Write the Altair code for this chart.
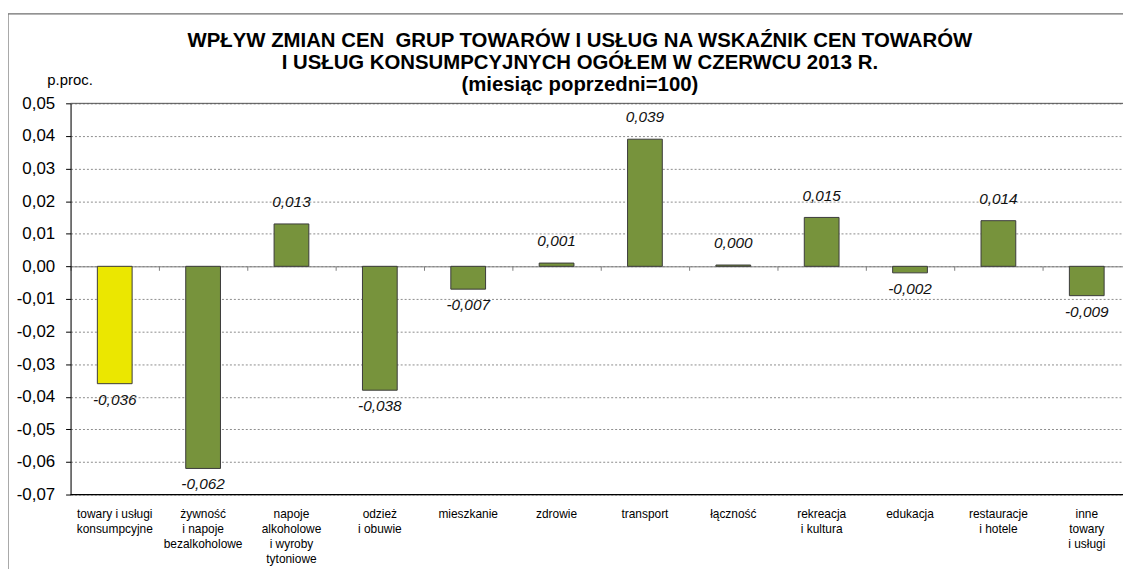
import altair as alt
import pandas as pd

categories = [
    "towary i usługi\nkonsumpcyjne",
    "żywność\ni napoje\nbezalkoholowe",
    "napoje\nalkoholowe\ni wyroby\ntytoniowe",
    "odzież\ni obuwie",
    "mieszkanie",
    "zdrowie",
    "transport",
    "łączność",
    "rekreacja\ni kultura",
    "edukacja",
    "restauracje\ni hotele",
    "inne\ntowary\ni usługi",
]
values = [-0.036, -0.062, 0.013, -0.038, -0.007, 0.001, 0.039, 0.0004, 0.015, -0.002, 0.014, -0.009]
colors = ["#EBE700"] + ["#77933C"] * 11
y_ticks = [0.05, 0.04, 0.03, 0.02, 0.01, 0.0, -0.01, -0.02, -0.03, -0.04, -0.05, -0.06, -0.07]
title_lines = [
    "WPŁYW ZMIAN CEN \u00a0GRUP TOWARÓW I USŁUG NA WSKAŹNIK CEN TOWARÓW",
    "I USŁUG KONSUMPCYJNYCH OGÓŁEM W CZERWCU 2013 R.",
    "(miesiąc poprzedni=100)",
]
y_unit = "p.proc."

df = pd.DataFrame({"cat": categories, "val": values, "color": colors})

W, H = 1060, 394
FONT = "Liberation Sans"

x_axis = alt.Axis(
    labels=False, title=None, grid=False, orient="bottom",
    offset=-(H * 0.07 / 0.12), domainColor="#7f7f7f", domainWidth=1,
    tickColor="#7f7f7f", tickSize=4, tickBand="extent",
)
x_scale = alt.Scale(range=[0, 1068], paddingInner=0, paddingOuter=0)
y_scale = alt.Scale(domain=[-0.07, 0.05], nice=False, zero=False)
y_axis = alt.Axis(
    values=y_ticks, tickCount=30, format=".2f", title=y_unit, titleAngle=0, titleX=-1, titleY=-19,
    titleAlign="center", titleBaseline="alphabetic", titleFontSize=15,
    titleFontWeight="normal", titleColor="black", titleFont=FONT,
    labelFontSize=17, labelColor="black", labelFont=FONT, labelPadding=11,
    labelOverlap=False, labelFlush=False,
    tickColor="black", tickSize=5, domainColor="black",
    gridColor="#8c8c8c", gridDash=[2, 2], gridWidth=1,
)


def X():
    return alt.X("cat:N", sort=None, scale=x_scale, axis=x_axis)


def Y(field="val:Q"):
    return alt.Y(field, scale=y_scale, axis=y_axis)


base = alt.Chart(df)

frame = alt.Chart(pd.DataFrame({"k": [0]})).mark_rect(
    fill=None, stroke="#6f6f6f", strokeWidth=1.2
).encode(
    x=alt.value(-63), x2=alt.value(1200), y=alt.value(-90), y2=alt.value(600)
)

bars = base.mark_bar(size=35, stroke="#3a3a3a", strokeWidth=1).encode(
    x=X(), y=Y(), color=alt.Color("color:N", scale=None)
)

top_line = alt.Chart(pd.DataFrame({"v": [0.05]})).mark_rule(color="#555555", strokeWidth=1).encode(
    y=Y("v:Q"), x=alt.value(0), x2=alt.value(W)
)
bottom_line = alt.Chart(pd.DataFrame({"v": [-0.07]})).mark_rule(color="black", strokeWidth=1.3).encode(
    y=Y("v:Q"), x=alt.value(0), x2=alt.value(W)
)

pos_labels = base.transform_filter("datum.val >= 0").mark_text(
    baseline="alphabetic", dy=-17, fontSize=15.5, fontStyle="italic", font=FONT, color="#111"
).encode(x=X(), y=Y(), text=alt.Text("val:Q", format=".3f"))

neg_labels = base.transform_filter("datum.val < 0").mark_text(
    baseline="alphabetic", dy=21, fontSize=15.5, fontStyle="italic", font=FONT, color="#111"
).encode(x=X(), y=Y(), text=alt.Text("val:Q", format=".3f"))

cat_labels = base.mark_text(
    baseline="top", align="center", lineBreak="\n", fontSize=12, lineHeight=15, font=FONT, color="black"
).encode(x=X(), y=alt.value(H + 15), text="cat:N")

title = alt.Chart(pd.DataFrame({"k": [0]})).mark_text(
    text=title_lines, baseline="top", align="center", fontSize=20.5, fontWeight="bold",
    lineHeight=22.5, font=FONT, color="black"
).encode(x=alt.value(513), y=alt.value(-73))

chart = alt.layer(
    frame, bars, top_line, bottom_line, pos_labels, neg_labels, cat_labels, title
).properties(
    width=W, height=H,
    autosize=alt.AutoSizeParams(type="none"),
    padding={"left": 63, "top": 94, "right": 0, "bottom": 73},
    background="white",
).configure_view(stroke=None).configure(
    font=FONT,
    locale={"number": {"decimal": ",", "thousands": " ", "grouping": [3], "currency": ["", " zł"], "minus": "-"}},
)

chart.save(
    "out.html",
    embed_options={
        "renderer": "svg",
        "actions": False,
        "formatLocale": {"decimal": ",", "thousands": " ", "grouping": [3], "currency": ["", " zł"], "minus": "-"},
    },
)
